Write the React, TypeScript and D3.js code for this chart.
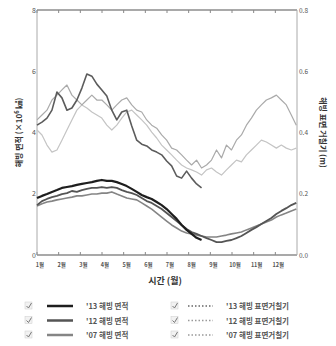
import React from 'react';
import * as d3 from 'd3';

// day-of-year sample points, weekly
const days = d3.range(0, 365, 7);

// sea ice area (x10^6 km2)
const area13 = [1.86, 1.93, 1.99, 2.06, 2.12, 2.19, 2.22, 2.25, 2.29, 2.32, 2.35, 2.38, 2.42, 2.45, 2.42, 2.42, 2.38, 2.32, 2.25, 2.16, 2.06, 1.96, 1.89, 1.83, 1.73, 1.63, 1.5, 1.34, 1.18, 0.98, 0.82, 0.69, 0.56, 0.49];
const area12 = [1.63, 1.76, 1.83, 1.89, 1.93, 1.99, 2.02, 2.09, 2.06, 2.12, 2.16, 2.19, 2.19, 2.22, 2.19, 2.22, 2.19, 2.12, 2.06, 2.02, 1.96, 1.86, 1.76, 1.70, 1.60, 1.50, 1.37, 1.24, 1.11, 0.98, 0.85, 0.75, 0.69, 0.62, 0.55, 0.49, 0.42, 0.42, 0.46, 0.49, 0.55, 0.62, 0.72, 0.82, 0.91, 1.01, 1.11, 1.21, 1.34, 1.44, 1.53, 1.63, 1.70];
const area07 = [1.60, 1.67, 1.73, 1.76, 1.80, 1.83, 1.86, 1.89, 1.93, 1.93, 1.96, 1.99, 1.99, 2.02, 2.02, 2.06, 1.99, 1.93, 1.86, 1.83, 1.80, 1.70, 1.60, 1.50, 1.37, 1.24, 1.11, 0.98, 0.88, 0.78, 0.72, 0.69, 0.65, 0.62, 0.59, 0.59, 0.59, 0.62, 0.65, 0.69, 0.72, 0.75, 0.82, 0.88, 0.95, 1.01, 1.08, 1.14, 1.24, 1.31, 1.37, 1.44, 1.50];

// sea ice surface roughness (m)
const rough13 = [0.424, 0.434, 0.447, 0.473, 0.532, 0.513, 0.473, 0.48, 0.506, 0.545, 0.591, 0.584, 0.558, 0.539, 0.519, 0.473, 0.441, 0.467, 0.473, 0.421, 0.375, 0.362, 0.356, 0.343, 0.336, 0.327, 0.307, 0.291, 0.258, 0.251, 0.274, 0.251, 0.232, 0.219];
const rough12 = [0.441, 0.457, 0.473, 0.506, 0.522, 0.539, 0.555, 0.522, 0.506, 0.49, 0.506, 0.522, 0.506, 0.506, 0.49, 0.473, 0.49, 0.506, 0.513, 0.49, 0.473, 0.467, 0.441, 0.424, 0.414, 0.392, 0.375, 0.349, 0.343, 0.327, 0.31, 0.294, 0.31, 0.284, 0.294, 0.31, 0.343, 0.317, 0.359, 0.343, 0.375, 0.392, 0.424, 0.447, 0.473, 0.49, 0.506, 0.513, 0.522, 0.506, 0.49, 0.457, 0.424];
const rough07 = [0.408, 0.392, 0.359, 0.336, 0.343, 0.375, 0.408, 0.441, 0.473, 0.49, 0.48, 0.467, 0.457, 0.447, 0.424, 0.408, 0.424, 0.447, 0.467, 0.473, 0.457, 0.441, 0.424, 0.401, 0.382, 0.359, 0.343, 0.327, 0.31, 0.294, 0.284, 0.278, 0.271, 0.261, 0.278, 0.284, 0.271, 0.261, 0.278, 0.294, 0.31, 0.304, 0.327, 0.343, 0.359, 0.375, 0.369, 0.359, 0.349, 0.359, 0.349, 0.343, 0.349];

const leftTicks = [0, 2, 4, 6, 8];
const rightTicks = [0, 0.2, 0.4, 0.6, 0.8];
const months = ['1월', '2월', '3월', '4월', '5월', '6월', '7월', '8월', '9월', '10월', '11월', '12월'];

const areaSeries = [
  { label: "'13 해빙 면적", values: area13, color: '#1e1e1e', width: 2.2 },
  { label: "'12 해빙 면적", values: area12, color: '#555', width: 1.8 },
  { label: "'07 해빙 면적", values: area07, color: '#858585', width: 1.6 },
];
const roughSeries = [
  { label: "'13 해빙 표면거칠기", values: rough13, color: '#5c5c5c', width: 1.6 },
  { label: "'12 해빙 표면거칠기", values: rough12, color: '#aaa', width: 1.2 },
  { label: "'07 해빙 표면거칠기", values: rough07, color: '#c4c4c4', width: 1.2 },
];

const W = 336, H = 346;
const m = { left: 37, right: 39, top: 10, bottom: 91 };

export default function App() {
  const x = d3.scaleLinear().domain([0, 365]).range([m.left, W - m.right]);
  const yL = d3.scaleLinear().domain([0, 8]).range([H - m.bottom, m.top]);
  const yR = d3.scaleLinear().domain([0, 0.8]).range([H - m.bottom, m.top]);
  const lineL = d3.line<number>().x((_, i) => x(days[i])).y(d => yL(d));
  const lineR = d3.line<number>().x((_, i) => x(days[i])).y(d => yR(d));
  const monthX = d3.scaleBand<string>().domain(months).range([m.left, W - m.right]);
  const font = "'Noto Sans CJK KR', 'Noto Sans', sans-serif";
  const x0 = m.left, x1 = W - m.right, y0 = m.top, y1 = H - m.bottom;

  return (
    <svg width={W} height={H} style={{ position: 'absolute', left: 0, top: 0, background: '#fff' }} fontFamily={font}>
      {/* frame */}
      <line x1={x0} x2={x1} y1={y0} y2={y0} stroke="#555" strokeWidth={1.2} />
      <line x1={x0} x2={x1} y1={y1} y2={y1} stroke="#555" strokeWidth={1.2} />
      <line x1={x0} x2={x0} y1={y0} y2={y1} stroke="#aaa" strokeWidth={1} />
      <line x1={x1} x2={x1} y1={y0} y2={y1} stroke="#aaa" strokeWidth={1} />
      {months.map(mo => (
        <g key={mo}>
          <line x1={monthX(mo)!} x2={monthX(mo)!} y1={y0} y2={y0 + 3} stroke="#888" />
          <line x1={monthX(mo)!} x2={monthX(mo)!} y1={y1} y2={y1 - 3} stroke="#888" />
          <text x={monthX(mo)! + 3} y={y1 + 12} fontSize={5.5} fill="#555" textAnchor="middle" fontWeight="bold">{mo}</text>
        </g>
      ))}
      {leftTicks.map(t => (
        <text key={t} x={x0 - 1} y={yL(t) + 2.5} fontSize={7} fill="#555" textAnchor="end">{t}</text>
      ))}
      {rightTicks.map(t => (
        <text key={t} x={x1 + 2} y={yR(t) + 2.5} fontSize={6.5} fill="#555">{t.toFixed(1)}</text>
      ))}
      <text transform={`translate(22,${(y0 + y1) / 2}) rotate(-90)`} textAnchor="middle" fontSize={8} fontWeight="bold" fill="#333">
        해빙 면적 (×10<tspan fontSize={5.5} dy={-3}>6</tspan><tspan dy={3}> ㎢)</tspan>
      </text>
      <text transform={`translate(320,${(y0 + y1) / 2}) rotate(90)`} textAnchor="middle" fontSize={8} fontWeight="bold" fill="#333">
        해빙 표면 거칠기 (m)
      </text>
      <text x={165} y={y1 + 29} textAnchor="middle" fontSize={9} fontWeight="bold" fill="#333">시간 (월)</text>

      {/* roughness */}
      {[...roughSeries].reverse().map(s => (
        <path key={s.label} d={lineR(s.values)!} fill="none" stroke={s.color} strokeWidth={s.width} strokeLinejoin="round" />
      ))}
      {/* area */}
      {[...areaSeries].reverse().map(s => (
        <path key={s.label} d={lineL(s.values)!} fill="none" stroke={s.color} strokeWidth={s.width} strokeLinejoin="round" />
      ))}

      {/* legend */}
      {areaSeries.map((s, i) => {
        const ly = 306 + i * 14.5;
        return (
          <g key={s.label}>
            <rect x={25} y={ly - 4} width={7} height={7} fill="#f2f2f2" stroke="#ccc" strokeWidth={0.5} />
            <path d={`M26.5,${ly} l2,2 l3,-5`} fill="none" stroke="#777" strokeWidth={1} />
            <line x1={47} x2={73} y1={ly} y2={ly} stroke={s.color} strokeWidth={2.5} />
            <text x={86} y={ly + 3} fontSize={7.5} fontWeight="bold" fill="#555">{s.label}</text>
          </g>
        );
      })}
      {roughSeries.map((s, i) => {
        const ly = 306 + i * 14.5;
        return (
          <g key={s.label}>
            <rect x={171} y={ly - 4} width={7} height={7} fill="#f2f2f2" stroke="#ccc" strokeWidth={0.5} />
            <path d={`M172.5,${ly} l2,2 l3,-5`} fill="none" stroke="#777" strokeWidth={1} />
            <line x1={188} x2={213} y1={ly} y2={ly} stroke={i === 0 ? '#666' : '#999'} strokeWidth={1.5} strokeDasharray="1.5,2" />
            <text x={226} y={ly + 3} fontSize={7.5} fontWeight="bold" fill="#555">{s.label}</text>
          </g>
        );
      })}
    </svg>
  );
}
